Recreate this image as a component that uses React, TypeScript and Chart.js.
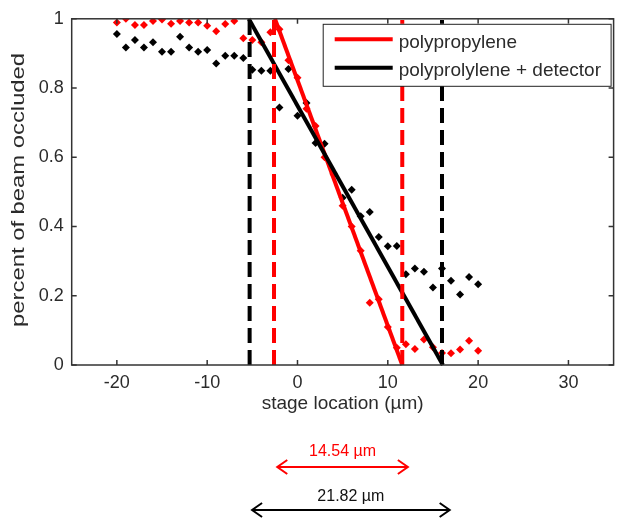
import React, { useEffect, useRef } from 'react';
import { Chart, registerables } from 'chart.js';

Chart.register(...registerables);

// ---- data ----
const stageX = [-20, -19, -18, -17, -16, -15, -14, -13, -12, -11, -10, -9, -8, -7, -6, -5, -4, -3, -2, -1, 0,
  1, 2, 3, 4, 5, 6, 7, 8, 9, 10, 11, 12, 13, 14, 15, 16, 17, 18, 19, 20];
const polypropylene = [0.989, 1.0, 0.982, 0.982, 0.994, 0.998, 0.986, 0.994, 0.989, 0.989, 0.98, 0.964, 0.985, 0.994,
  0.944, 0.939, 0.932, 0.961, 0.97, 0.88, 0.83, 0.74, 0.69, 0.6, 0.55, 0.46, 0.4, 0.33, 0.18, 0.19, 0.11, 0.05,
  0.06, 0.046, 0.074, 0.051, 0.035, 0.034, 0.045, 0.07, 0.041];
const polyDetector = [0.956, 0.917, 0.939, 0.917, 0.932, 0.905, 0.905, 0.948, 0.917, 0.905, 0.91, 0.871, 0.893, 0.893,
  0.887, 0.853, 0.85, 0.85, 0.744, 0.855, 0.72, 0.757, 0.641, 0.639, 0.554, 0.483, 0.506, 0.43, 0.442, 0.37, 0.343,
  0.344, 0.262, 0.279, 0.269, 0.224, 0.279, 0.243, 0.204, 0.254, 0.233];

const redFitX = [-2.5, 11.6];
const redFitY = [1, 0];
const blackFitX = [-5.4, 16.1];
const blackFitY = [1, 0];
const redBounds = [-2.6, 11.6];
const blackBounds = [-5.3, 16.0];
const redSpan = [-2.24, 12.22];
const blackSpan = [-5.03, 16.85];
const spanLabels = ['14.54 µm', '21.82 µm'];
const legendLabels = ['polypropylene', 'polyprolylene + detector'];
const xTitle = 'stage location (µm)';
const yTitle = 'percent of beam occluded';

const xTicks = [-20, -10, 0, 10, 20, 30];
const xTickLabels = ['-20', '-10', '0', '10', '20', '30'];
const yTicks = [0, 0.2, 0.4, 0.6, 0.8, 1];
const yTickLabels = ['0', '0.2', '0.4', '0.6', '0.8', '1'];

const FONT = '"Liberation Sans", Arial, sans-serif';
const TEXT = '#2b2b2b';
const RED = '#ff0000';
const BLACK = '#000000';

function arrow(ctx: CanvasRenderingContext2D, x1: number, x2: number, y: number, color: string) {
  ctx.strokeStyle = color;
  ctx.lineWidth = 2;
  ctx.setLineDash([]);
  ctx.beginPath();
  ctx.moveTo(x1, y);
  ctx.lineTo(x2, y);
  ctx.moveTo(x1 + 10, y - 7);
  ctx.lineTo(x1, y);
  ctx.lineTo(x1 + 10, y + 7);
  ctx.moveTo(x2 - 10, y - 7);
  ctx.lineTo(x2, y);
  ctx.lineTo(x2 - 10, y + 7);
  ctx.stroke();
}

const overlay = {
  id: 'overlay',
  afterDraw(chart: any) {
    const { ctx, chartArea: a, scales } = chart;
    const x = scales.x;
    const y = scales.y;
    ctx.save();
    // axes box
    ctx.strokeStyle = '#333333';
    ctx.lineWidth = 1.5;
    ctx.setLineDash([]);
    ctx.strokeRect(a.left, a.top, a.right - a.left, a.bottom - a.top);
    ctx.beginPath();
    for (const v of xTicks) {
      const px = x.getPixelForValue(v);
      ctx.moveTo(px, a.bottom);
      ctx.lineTo(px, a.bottom - 5);
      ctx.moveTo(px, a.top);
      ctx.lineTo(px, a.top + 5);
    }
    for (const v of yTicks) {
      const py = y.getPixelForValue(v);
      ctx.moveTo(a.left, py);
      ctx.lineTo(a.left + 5, py);
      ctx.moveTo(a.right, py);
      ctx.lineTo(a.right - 5, py);
    }
    ctx.stroke();

    // y axis title (stretched along its length like the reference)
    ctx.save();
    ctx.font = `18px ${FONT}`;
    ctx.fillStyle = TEXT;
    ctx.textAlign = 'center';
    ctx.textBaseline = 'middle';
    const w = ctx.measureText(yTitle).width;
    ctx.translate(19, (a.top + a.bottom) / 2 - 2);
    ctx.rotate(-Math.PI / 2);
    ctx.scale(274 / w, 1);
    ctx.fillText(yTitle, 0, 0);
    ctx.restore();

    // legend
    const lx1 = a.left + 251;
    const lx2 = a.right - 3;
    const ly1 = a.top + 5;
    const ly2 = a.top + 67;
    ctx.fillStyle = '#ffffff';
    ctx.fillRect(lx1, ly1, lx2 - lx1, ly2 - ly1);
    ctx.strokeStyle = '#222222';
    ctx.lineWidth = 1;
    ctx.strokeRect(lx1 + 0.5, ly1 + 0.5, lx2 - lx1, ly2 - ly1);
    const rows = [{ c: RED, yy: ly1 + 15.5 }, { c: BLACK, yy: ly1 + 44 }];
    ctx.font = `19px ${FONT}`;
    ctx.textAlign = 'left';
    ctx.textBaseline = 'middle';
    rows.forEach((r, i) => {
      ctx.strokeStyle = r.c;
      ctx.lineWidth = 4;
      ctx.beginPath();
      ctx.moveTo(lx1 + 12, r.yy);
      ctx.lineTo(lx1 + 70, r.yy);
      ctx.stroke();
      ctx.fillStyle = TEXT;
      ctx.fillText(legendLabels[i], lx1 + 76, r.yy + 3);
    });

    // span arrows below the axes
    const spans = [
      { s: redSpan, c: RED, ay: a.bottom + 102, ty: a.bottom + 87 },
      { s: blackSpan, c: BLACK, ay: a.bottom + 145, ty: a.bottom + 132 },
    ];
    ctx.font = `16px ${FONT}`;
    ctx.textAlign = 'center';
    spans.forEach((sp, i) => {
      const p1 = x.getPixelForValue(sp.s[0]);
      const p2 = x.getPixelForValue(sp.s[1]);
      arrow(ctx, p1, p2, sp.ay, sp.c);
      ctx.fillStyle = i === 0 ? RED : '#111111';
      ctx.fillText(spanLabels[i], (p1 + p2) / 2, sp.ty);
    });
    ctx.restore();
  },
};

export default function App() {
  const ref = useRef<HTMLCanvasElement | null>(null);
  useEffect(() => {
    if (!ref.current) return;
    const lineDs = (xs: number[], ys: number[], color: string, dashed: boolean, order: number) => ({
      type: 'line' as const,
      data: xs.map((v, i) => ({ x: v, y: ys[i] })),
      borderColor: color,
      backgroundColor: color,
      borderWidth: 4,
      borderDash: dashed ? [15, 7] : [],
      pointRadius: 0,
      showLine: true,
      fill: false,
      clip: false as any,
      order,
    });
    const chart = new Chart(ref.current, {
      type: 'scatter',
      data: {
        datasets: [
          {
            label: 'polyprolylene + detector points',
            data: stageX.map((v, i) => ({ x: v, y: polyDetector[i] })),
            pointStyle: 'rectRot',
            pointRadius: 4,
            borderWidth: 0,
            backgroundColor: BLACK,
            borderColor: BLACK,
            order: 8,
          },
          {
            label: 'polypropylene points',
            data: stageX.map((v, i) => ({ x: v, y: polypropylene[i] })),
            pointStyle: 'rectRot',
            pointRadius: 4,
            borderWidth: 0,
            backgroundColor: RED,
            borderColor: RED,
            order: 7,
          },
          lineDs(redFitX, redFitY, RED, false, 6) as any,
          lineDs(blackFitX, blackFitY, BLACK, false, 5) as any,
          lineDs([redBounds[0], redBounds[0]], [0, 1], RED, true, 4) as any,
          lineDs([redBounds[1], redBounds[1]], [0, 1], RED, true, 3) as any,
          lineDs([blackBounds[0], blackBounds[0]], [0, 1], BLACK, true, 2) as any,
          lineDs([blackBounds[1], blackBounds[1]], [0, 1], BLACK, true, 1) as any,
        ],
      },
      options: {
        animation: false,
        responsive: false,
        devicePixelRatio: 1,
        layout: { padding: { left: 0, top: 18, right: 10.4, bottom: 108 } },
        plugins: { legend: { display: false }, tooltip: { enabled: false }, title: { display: false } },
        scales: {
          x: {
            type: 'linear',
            min: -25,
            max: 35,
            afterBuildTicks: (s: any) => { s.ticks = xTicks.map((v) => ({ value: v })); },
            afterFit: (s: any) => { s.height = 54; },
            grid: { display: false, drawTicks: false },
            border: { display: false },
            ticks: {
              font: { family: FONT, size: 18 },
              color: TEXT,
              padding: 7,
              maxRotation: 0,
              autoSkip: false,
              callback: (v: any) => xTickLabels[xTicks.indexOf(Number(v))],
            },
            title: {
              display: true,
              text: xTitle,
              font: { family: FONT, size: 19 },
              color: TEXT,
              padding: { top: 0, bottom: 4 },
            },
          },
          y: {
            type: 'linear',
            min: 0,
            max: 1,
            afterBuildTicks: (s: any) => { s.ticks = yTicks.map((v) => ({ value: v })); },
            afterFit: (s: any) => { s.width = 71.7; },
            grid: { display: false, drawTicks: false },
            border: { display: false },
            ticks: {
              font: { family: FONT, size: 18 },
              color: TEXT,
              padding: 8,
              autoSkip: false,
              callback: (v: any) => yTickLabels[yTicks.indexOf(Number(v))],
            },
          },
        },
      },
      plugins: [overlay],
    });
    return () => chart.destroy();
  }, []);
  return (
    <div style={{ position: 'fixed', left: 0, top: 0, width: 624, height: 527, background: '#fff' }}>
      <canvas ref={ref} width={624} height={527} style={{ display: 'block' }} />
    </div>
  );
}
